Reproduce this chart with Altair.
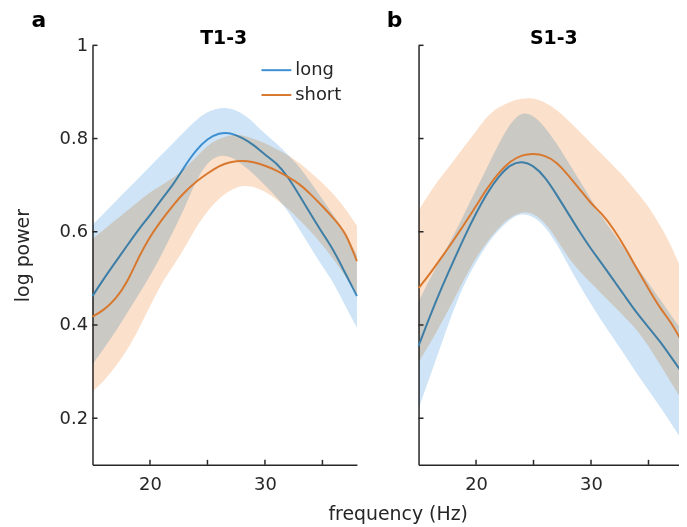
import altair as alt
import pandas as pd

freq = list(range(15, 39))

# ---- Panel a : T1-3 ----
a_long_mean = [0.462, 0.50, 0.535, 0.57, 0.605, 0.635, 0.67, 0.70, 0.74, 0.775, 0.80, 0.812,
               0.813, 0.802, 0.787, 0.765, 0.748, 0.718, 0.678, 0.637, 0.597, 0.56, 0.51, 0.462]
a_long_lo = [0.315, 0.35, 0.385, 0.425, 0.465, 0.505, 0.55, 0.60, 0.65, 0.71, 0.75, 0.765,
             0.762, 0.745, 0.725, 0.70, 0.675, 0.645, 0.605, 0.565, 0.525, 0.49, 0.44, 0.394]
a_long_hi = [0.615, 0.64, 0.665, 0.69, 0.715, 0.74, 0.765, 0.79, 0.815, 0.84, 0.858, 0.866,
             0.866, 0.855, 0.835, 0.81, 0.79, 0.765, 0.74, 0.705, 0.67, 0.635, 0.595, 0.55]
a_short_mean = [0.418, 0.432, 0.455, 0.49, 0.545, 0.59, 0.625, 0.657, 0.685, 0.708, 0.725, 0.742,
                0.75, 0.753, 0.75, 0.742, 0.732, 0.718, 0.703, 0.68, 0.655, 0.628, 0.60, 0.537]
a_short_lo = [0.257, 0.28, 0.31, 0.345, 0.39, 0.44, 0.49, 0.525, 0.565, 0.61, 0.645, 0.672,
              0.69, 0.70, 0.697, 0.687, 0.67, 0.65, 0.625, 0.60, 0.572, 0.54, 0.505, 0.463]
a_short_hi = [0.585, 0.605, 0.625, 0.645, 0.665, 0.685, 0.70, 0.715, 0.735, 0.76, 0.785, 0.80,
              0.808, 0.808, 0.80, 0.79, 0.778, 0.765, 0.748, 0.727, 0.705, 0.68, 0.65, 0.613]

# ---- Panel b : S1-3 ----
b_long_mean = [0.355, 0.42, 0.48, 0.535, 0.59, 0.64, 0.685, 0.72, 0.745, 0.752, 0.742, 0.718,
               0.68, 0.64, 0.60, 0.563, 0.53, 0.495, 0.46, 0.425, 0.395, 0.365, 0.33, 0.295]
b_long_lo = [0.22, 0.29, 0.36, 0.43, 0.49, 0.535, 0.575, 0.605, 0.628, 0.64, 0.633, 0.612,
             0.575, 0.53, 0.485, 0.445, 0.405, 0.37, 0.333, 0.295, 0.26, 0.225, 0.188, 0.15]
b_long_hi = [0.45, 0.50, 0.545, 0.59, 0.64, 0.69, 0.74, 0.79, 0.835, 0.858, 0.85, 0.825,
             0.79, 0.75, 0.71, 0.67, 0.63, 0.595, 0.56, 0.525, 0.49, 0.455, 0.42, 0.385]
b_short_mean = [0.479, 0.51, 0.545, 0.58, 0.617, 0.655, 0.695, 0.728, 0.752, 0.765, 0.768, 0.764,
                0.75, 0.722, 0.692, 0.66, 0.638, 0.605, 0.565, 0.52, 0.478, 0.436, 0.405, 0.36]
b_short_lo = [0.32, 0.36, 0.405, 0.45, 0.50, 0.545, 0.58, 0.61, 0.632, 0.643, 0.64, 0.62,
              0.585, 0.545, 0.515, 0.49, 0.465, 0.44, 0.415, 0.39, 0.355, 0.315, 0.275, 0.235]
b_short_hi = [0.645, 0.685, 0.72, 0.75, 0.785, 0.815, 0.85, 0.868, 0.88, 0.886, 0.887, 0.878,
              0.862, 0.84, 0.815, 0.79, 0.765, 0.74, 0.715, 0.685, 0.655, 0.615, 0.57, 0.51]

series_names = ["long", "short"]
y_ticks = [0.2, 0.4, 0.6, 0.8, 1.0]
x_labels = [20, 30]
x_ticks = [20, 25, 30, 35]

FONT = "DejaVu Sans"
AX = "#262626"
LINE_COLORS = ["#3d8fd1", "#d8782e"]
BAND_COLORS = {"long": "#cfe5f7", "short": "#fbe0cb"}
W, H = 266, 422

rows = []
for pid, data in (("a", (a_long_mean, a_long_lo, a_long_hi, a_short_mean, a_short_lo, a_short_hi)),
                  ("b", (b_long_mean, b_long_lo, b_long_hi, b_short_mean, b_short_lo, b_short_hi))):
    lm, ll, lh, sm, sl, sh = data
    for i, f in enumerate(freq):
        rows.append({"panel": pid, "series": "long", "f": f, "mean": lm[i], "lo": ll[i], "hi": lh[i]})
        rows.append({"panel": pid, "series": "short", "f": f, "mean": sm[i], "lo": sl[i], "hi": sh[i]})
df = pd.DataFrame(rows)

xscale = alt.Scale(domain=[15, 38], nice=False, zero=False)
yscale = alt.Scale(domain=[0.1, 1.0], nice=False, zero=False)
colscale = alt.Scale(domain=series_names, range=LINE_COLORS)
INTERP = "basis"


def panel(pid, title, letter, first, title_x, letter_x):
    d = df[df.panel == pid]
    if first:
        yaxis = alt.Axis(values=y_ticks, ticks=False, grid=False, labelPadding=5,
                         labelFont=FONT, labelFontSize=18, labelColor=AX,
                         domainColor=AX, domainWidth=1.5,
                         title="log power", titleFont=FONT, titleFontSize=19,
                         titleFontWeight="normal", titleColor=AX, titlePadding=27,
                         labelExpr="datum.value == 1 ? '1' : format(datum.value, '.1f')")
        xaxis = alt.Axis(values=x_labels, ticks=False, grid=False, labelPadding=11,
                         labelFont=FONT, labelFontSize=18, labelColor=AX,
                         domainColor=AX, domainWidth=1.5, title="")
    else:
        yaxis = alt.Axis(values=y_ticks, ticks=False, grid=False, labels=False,
                         domainColor=AX, domainWidth=1.5, title="")
        xaxis = alt.Axis(values=x_labels, ticks=False, grid=False, labelPadding=11,
                         labelFont=FONT, labelFontSize=18, labelColor=AX,
                         domainColor=AX, domainWidth=1.5,
                         title="frequency (Hz)", titleFont=FONT, titleFontSize=19,
                         titleFontWeight="normal", titleColor=AX,
                         titleX=-21, titleY=49, titleAlign="center", titleBaseline="middle")

    base = alt.Chart(d)
    x = alt.X("f:Q", scale=xscale, axis=xaxis)

    def band(s):
        return base.transform_filter(alt.datum.series == s).mark_area(
            color=BAND_COLORS[s], blend="multiply", interpolate=INTERP
        ).encode(x=x, y=alt.Y("lo:Q", scale=yscale, axis=yaxis), y2="hi:Q")

    if first:
        leg = alt.Legend(orient="none", legendX=169, legendY=9, title=None,
                         symbolType="stroke", symbolSize=900, symbolStrokeWidth=2,
                         labelFont=FONT, labelFontSize=18, labelColor=AX,
                         labelOffset=3, rowPadding=-4)
    else:
        leg = None

    def line(s):
        return base.transform_filter(alt.datum.series == s).mark_line(
            strokeWidth=2, interpolate=INTERP
        ).encode(x=x, y=alt.Y("mean:Q", scale=yscale, axis=yaxis),
                 color=alt.Color("series:N", scale=colscale, legend=leg))

    yt = alt.Chart(pd.DataFrame({"yt": y_ticks})).mark_rule(color=AX, strokeWidth=1.5).encode(
        y=alt.Y("yt:Q", scale=yscale, axis=yaxis), x=alt.value(0), x2=alt.value(5))
    xt = alt.Chart(pd.DataFrame({"xt": x_ticks})).mark_rule(color=AX, strokeWidth=1.5).encode(
        x=alt.X("xt:Q", scale=xscale, axis=xaxis), y=alt.value(H), y2=alt.value(H - 5))

    txt = pd.DataFrame({"t": [title]})
    title_mark = alt.Chart(txt).mark_text(font=FONT, fontSize=19, fontWeight="bold",
                                          color="black", align="center", baseline="middle").encode(
        text="t:N", x=alt.value(title_x), y=alt.value(-7))
    let = pd.DataFrame({"t": [letter]})
    letter_mark = alt.Chart(let).mark_text(font=FONT, fontSize=22, fontWeight="bold",
                                           color="black", align="center", baseline="middle").encode(
        text="t:N", x=alt.value(letter_x), y=alt.value(-25))

    return alt.layer(band("long"), line("long"), band("short"), line("short"),
                     yt, xt, title_mark, letter_mark).properties(width=W, height=H)


chart = alt.hconcat(
    panel("a", "T1-3", "a", True, 132, -54),
    panel("b", "S1-3", "b", False, 136, -24),
    spacing=62, bounds="flush",
).resolve_scale(color="independent").properties(
    padding={"left": 5, "top": 0, "right": -8, "bottom": 3}
).configure_view(stroke=None)

chart.save("out.html", embed_options={"renderer": "svg", "actions": False})
